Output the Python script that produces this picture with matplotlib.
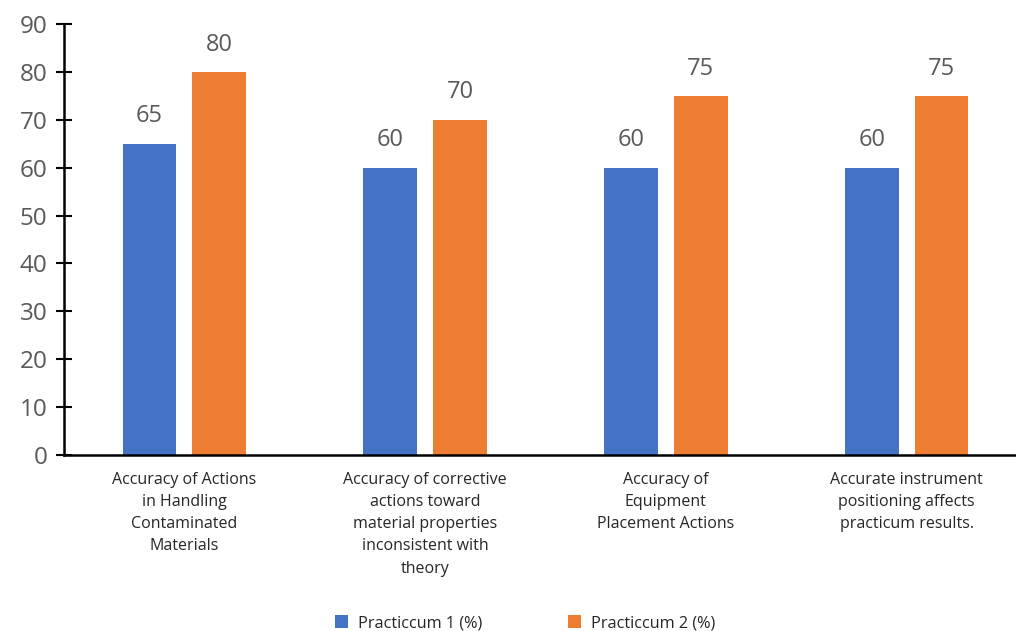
import matplotlib
matplotlib.use("Agg")
import matplotlib.pyplot as plt
import numpy as np

categories = [
    "Accuracy of Actions\nin Handling\nContaminated\nMaterials",
    "Accuracy of corrective\nactions toward\nmaterial properties\ninconsistent with\ntheory",
    "Accuracy of\nEquipment\nPlacement Actions",
    "Accurate instrument\npositioning affects\npracticum results.",
]
series_names = ["Practiccum 1 (%)", "Practiccum 2 (%)"]
p1 = [65, 60, 60, 60]
p2 = [80, 70, 75, 75]
yticks = [0, 10, 20, 30, 40, 50, 60, 70, 80, 90]

plt.rcParams['font.family'] = ['Open Sans', 'DejaVu Sans']
grey = '#595959'
blue = '#4472C4'
orange = '#ED7D31'

fig = plt.figure(figsize=(10.16, 6.31), dpi=100)
ax = fig.add_axes([64/1016, 1-455/631, 963/1016, (455-24)/631])

x = np.arange(len(categories))
w = 0.224
off = 0.145
b1 = ax.bar(x - off, p1, w, color=blue, label=series_names[0])
b2 = ax.bar(x + off, p2, w, color=orange, label=series_names[1])
for bars in (b1, b2):
    ax.bar_label(bars, padding=11, fontsize=17, color=grey)

ax.set_xlim(-0.5, 3.5)
ax.set_ylim(0, 90)
ax.set_yticks(yticks)
ax.tick_params(axis='y', direction='inout', length=12, width=1.5, labelsize=17.5,
               labelcolor=grey, pad=6, color='black')
ax.set_xticks(x)
ax.set_xticklabels(categories, fontsize=11.5, color='#262626', linespacing=1.52)
ax.tick_params(axis='x', length=0, pad=12)
for s in ['top', 'right']:
    ax.spines[s].set_visible(False)
ax.spines['left'].set_linewidth(1.8)
ax.spines['bottom'].set_linewidth(1.8)
ax.spines['left'].set_color('black')
ax.spines['bottom'].set_color('black')

fig.legend(handles=[b1, b2], labels=series_names, loc='center',
           bbox_to_anchor=(525/1016, 1-623/631), ncol=2, frameon=False,
           fontsize=11.7, handlelength=0.8, handleheight=0.8, columnspacing=5.3,
           handletextpad=0.6, labelcolor='#262626')

fig.savefig('out.png', dpi=100)
